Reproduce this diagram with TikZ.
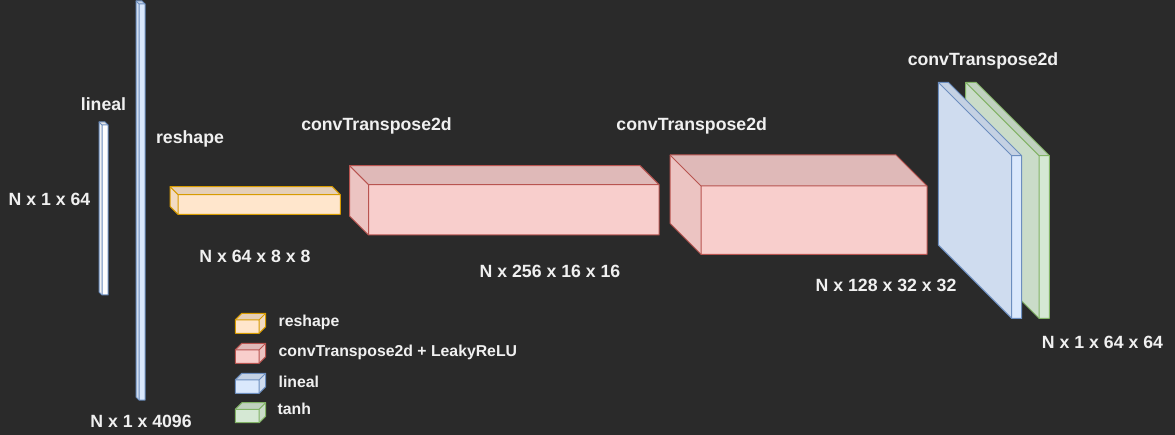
\documentclass[tikz,border=0pt]{standalone}
\usepackage{fontspec}
\setmainfont{Liberation Sans}
\definecolor{bgc}{HTML}{2A2A2A}
\definecolor{txtc}{HTML}{F0F0F0}
\definecolor{yfill}{HTML}{FFE6CC}\definecolor{ystroke}{HTML}{D79B00}
\definecolor{rfill}{HTML}{F8CECC}\definecolor{rstroke}{HTML}{B85450}
\definecolor{bfill}{HTML}{DAE8FC}\definecolor{bstroke}{HTML}{6C8EBF}
\definecolor{gfill}{HTML}{D5E8D4}\definecolor{gstroke}{HTML}{82B366}
\definecolor{wfill}{HTML}{FFFFFF}
% depth towards upper-left: x y w h s fill stroke
\newcommand\mydcube[7]{%
  \fill[#6] (#1+#5,#2+#5) rectangle (#1+#3,#2+#4);
  \fill[#6!90!black] (#1,#2) -- (#1+#3-#5,#2) -- (#1+#3,#2+#5) -- (#1+#5,#2+#5) -- cycle;
  \fill[#6!95!black] (#1,#2) -- (#1+#5,#2+#5) -- (#1+#5,#2+#4) -- (#1,#2+#4-#5) -- cycle;
  \draw[edge,#7] (#1,#2) -- (#1+#3-#5,#2) -- (#1+#3,#2+#5) -- (#1+#3,#2+#4) -- (#1+#5,#2+#4) -- (#1,#2+#4-#5) -- cycle;
  \draw[edge,#7] (#1,#2) -- (#1+#5,#2+#5) -- (#1+#3,#2+#5) (#1+#5,#2+#5) -- (#1+#5,#2+#4);
}
% depth towards upper-right (legend): x y w h s fill stroke
\newcommand\mylcube[7]{%
  \fill[#6] (#1,#2+#5) rectangle (#1+#3-#5,#2+#4);
  \fill[#6!90!black] (#1,#2+#5) -- (#1+#5,#2) -- (#1+#3,#2) -- (#1+#3-#5,#2+#5) -- cycle;
  \fill[#6!95!black] (#1+#3-#5,#2+#5) -- (#1+#3,#2) -- (#1+#3,#2+#4-#5) -- (#1+#3-#5,#2+#4) -- cycle;
  \draw[edge,#7] (#1,#2+#5) -- (#1+#5,#2) -- (#1+#3,#2) -- (#1+#3,#2+#4-#5) -- (#1+#3-#5,#2+#4) -- (#1,#2+#4) -- cycle;
  \draw[edge,#7] (#1,#2+#5) -- (#1+#3-#5,#2+#5) -- (#1+#3-#5,#2+#4) (#1+#3-#5,#2+#5) -- (#1+#3,#2);
}
\tikzset{
  edge/.style={line width=1pt, line join=round},
  lbl/.style={font=\fontsize{17.7}{20}\selectfont\bfseries, text=txtc, inner sep=0pt, text height=12.7pt, text depth=0pt, anchor=center},
  leg/.style={font=\fontsize{15.8}{18}\selectfont\bfseries, text=txtc, inner sep=0pt, text height=11.3pt, text depth=0pt, anchor=west},
}
\begin{document}
\begin{tikzpicture}[x=1pt,y=-1pt]
\fill[bgc] (0,0) rectangle (1175,435);
\useasboundingbox (0,0) rectangle (1175,435);
% layers
\mydcube{99}{122}{9}{173}{3}{wfill}{bstroke}
\mydcube{136}{1}{9}{399}{3}{bfill}{bstroke}
\mydcube{170}{186.7}{170.3}{27.6}{8}{yfill}{ystroke}
\mydcube{349.5}{165.7}{309.5}{69.3}{19}{rfill}{rstroke}
\mydcube{670}{155}{257}{99.3}{31}{rfill}{rstroke}
\mydcube{965.7}{82.3}{83.6}{236}{73.3}{gfill}{gstroke}
\mydcube{938.3}{82.3}{83.4}{236}{73.4}{bfill}{bstroke}
% labels
\node[lbl] (t1) at (103.5,104) {lineal};
\node[lbl] (t2) at (49.5,199) {N x 1 x 64};
\node[lbl] (t3) at (190,137) {reshape};
\node[lbl] (t4) at (141,421) {N x 1 x 4096};
\node[lbl] (t5) at (255,256) {N x 64 x 8 x 8};
\node[lbl] (t6) at (376.5,124.3) {convTranspose2d};
\node[lbl] (t7) at (691.7,124.3) {convTranspose2d};
\node[lbl] (t8) at (550,271.5) {N x 256 x 16 x 16};
\node[lbl] (t9) at (886,285) {N x 128 x 32 x 32};
\node[lbl] (t10) at (983,59) {convTranspose2d};
\node[lbl] (t11) at (1102.5,341.7) {N x 1 x 64 x 64};
% legend
\mylcube{235.3}{313.3}{30.4}{20}{6.6}{yfill}{ystroke}
\mylcube{235.3}{343.3}{30.4}{20}{6.6}{rfill}{rstroke}
\mylcube{235.3}{373.3}{30.4}{20}{6.6}{bfill}{bstroke}
\mylcube{235.3}{402.7}{30.4}{20}{6.6}{gfill}{gstroke}
\node[leg] (l1) at (278.5,320.7) {reshape};
\node[leg] (l2) at (278.5,350.7) {convTranspose2d + LeakyReLU};
\node[leg] (l3) at (278.5,381.5) {lineal};
\node[leg] (l4) at (277.5,409.3) {tanh};
\end{tikzpicture}
\end{document}
